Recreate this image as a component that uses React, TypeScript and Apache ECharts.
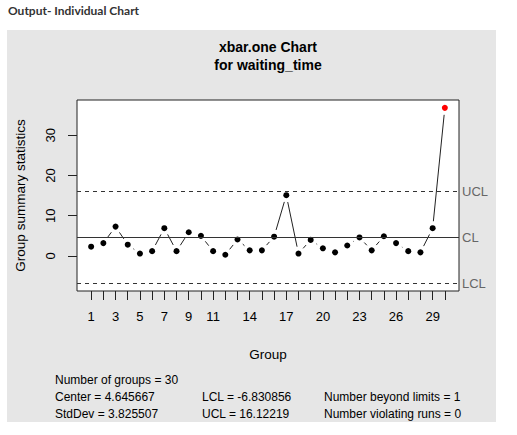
import React, { useEffect, useRef } from "react";
import * as echarts from "echarts";

const groups = [1, 2, 3, 4, 5, 6, 7, 8, 9, 10, 11, 12, 13, 14, 15, 16, 17, 18, 19, 20, 21, 22, 23, 24, 25, 26, 27, 28, 29, 30];
const values = [2.3, 3.2, 7.3, 2.8, 0.6, 1.2, 6.9, 1.2, 5.9, 5.0, 1.2, 0.3, 4.1, 1.4, 1.4, 4.8, 15.1, 0.6, 4.0, 1.9, 0.9, 2.6, 4.6, 1.4, 4.9, 3.2, 1.2, 0.9, 6.9, 36.8];
const beyondLimits = [30];
const center = 4.645667;
const lcl = -6.830856;
const ucl = 16.12219;
const xTickLabels = [1, 3, 5, 7, 9, 11, 14, 17, 20, 23, 26, 29];
const yTickValues = [0, 10, 20, 30];
const statsCol1 = ["Number of groups = 30", "Center = 4.645667", "StdDev = 3.825507"];
const statsCol2 = ["", "LCL = -6.830856", "UCL = 16.12219"];
const statsCol3 = ["", "Number beyond limits = 1", "Number violating runs = 0"];

const FONT = "'Liberation Sans', Arial, sans-serif";

export default function App() {
  const ref = useRef<HTMLDivElement>(null);
  useEffect(() => {
    if (!ref.current) return;
    const chart = echarts.init(ref.current, undefined, { renderer: "svg" });
    const segments = groups.slice(0, -1).map((g, i) => [g, values[i], groups[i + 1], values[i + 1]]);
    const points = groups.map((g, i) => ({
      value: [g, values[i]],
      itemStyle: { color: beyondLimits.includes(g) ? "#ff0000" : "#000000", opacity: 1 },
    }));
    const gap = 7;
    const statTexts: any[] = [];
    const rowsY = [380, 397, 414];
    const colsX = [55, 202, 324];
    [statsCol1, statsCol2, statsCol3].forEach((col, c) => {
      col.forEach((t, r) => {
        if (!t) return;
        statTexts.push({
          type: "text",
          x: colsX[c],
          y: rowsY[r],
          style: { text: t, font: `12px ${FONT}`, fill: "#000", textVerticalAlign: "middle" },
        });
      });
    });
    chart.setOption({
      animation: false,
      graphic: [
        { type: "rect", z: -100, shape: { x: 7, y: 30, width: 489, height: 392 }, style: { fill: "#e6e6e6" } },
        {
          type: "text",
          x: 8,
          y: 10,
          style: { text: "Output- Individual Chart", font: "bold 12px Lato, 'Open Sans', sans-serif", fill: "#333", textVerticalAlign: "middle" },
        },
        {
          type: "text",
          x: 268,
          y: 47,
          style: { text: "xbar.one Chart", font: `bold 14px ${FONT}`, fill: "#000", textAlign: "center", textVerticalAlign: "middle" },
        },
        {
          type: "text",
          x: 268,
          y: 65,
          style: { text: "for waiting_time", font: `bold 14px ${FONT}`, fill: "#000", textAlign: "center", textVerticalAlign: "middle" },
        },
        ...statTexts,
      ],
      grid: {
        left: 77,
        top: 100,
        width: 382,
        height: 191,
        show: true,
        backgroundColor: "#ffffff",
        borderColor: "#222",
        borderWidth: 1,
      },
      xAxis: {
        type: "value",
        min: -0.16,
        max: 31.16,
        splitLine: { show: false },
        axisLine: { show: false, onZero: false },
        axisTick: { show: true, length: 9, customValues: groups, lineStyle: { color: "#222" } },
        axisLabel: { customValues: xTickLabels, margin: 19, color: "#000", fontSize: 13, fontFamily: FONT },
        name: "Group",
        nameLocation: "middle",
        nameGap: 56,
        nameTextStyle: { color: "#000", fontSize: 13.5, fontFamily: FONT },
      },
      yAxis: {
        type: "value",
        min: -8.7,
        max: 38.75,
        splitLine: { show: false },
        axisLine: { show: false, onZero: false },
        axisTick: { show: true, length: 9, customValues: yTickValues, lineStyle: { color: "#222" } },
        axisLabel: { customValues: yTickValues, rotate: 90, margin: 20, color: "#000", fontSize: 13, fontFamily: FONT },
        name: "Group summary statistics",
        nameLocation: "middle",
        nameGap: 50,
        nameTextStyle: { color: "#000", fontSize: 13.5, fontFamily: FONT },
      },
      series: [
        {
          type: "custom",
          data: segments,
          encode: { x: [0, 2], y: [1, 3] },
          renderItem: (params: any, api: any) => {
            const p1 = api.coord([api.value(0), api.value(1)]);
            const p2 = api.coord([api.value(2), api.value(3)]);
            const dx = p2[0] - p1[0];
            const dy = p2[1] - p1[1];
            const len = Math.sqrt(dx * dx + dy * dy);
            if (len <= 2 * gap) return null;
            const ux = dx / len;
            const uy = dy / len;
            return {
              type: "line",
              shape: { x1: p1[0] + ux * gap, y1: p1[1] + uy * gap, x2: p2[0] - ux * gap, y2: p2[1] - uy * gap },
              style: { stroke: "#222", lineWidth: 1 },
            };
          },
          z: 3,
        },
        {
          type: "scatter",
          data: points,
          symbol: "circle",
          symbolSize: 6,
          z: 4,
          markLine: {
            silent: true,
            symbol: "none",
            lineStyle: { color: "#333", width: 1 },
            label: { show: true, position: "end", distance: 3, color: "#666", fontSize: 13, fontFamily: FONT, formatter: "{b}" },
            data: [
              { name: "UCL", yAxis: ucl, lineStyle: { type: [4, 4] } },
              { name: "CL", yAxis: center, lineStyle: { type: "solid" } },
              { name: "LCL", yAxis: lcl, lineStyle: { type: [4, 4] } },
            ],
          },
        },
      ],
    });
    return () => chart.dispose();
  }, []);
  return <div ref={ref} style={{ position: "absolute", left: 0, top: 0, width: 517, height: 435 }} />;
}
